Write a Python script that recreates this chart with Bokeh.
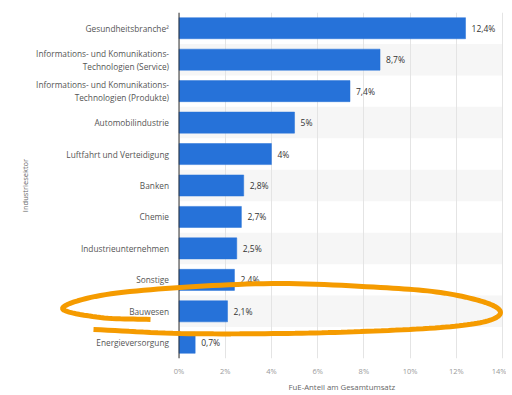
import numpy as np
from bokeh.plotting import figure
from bokeh.models import FactorRange, Range1d, FixedTicker, PolyAnnotation, Span, Title
from bokeh.core.properties import value
from bokeh.embed import file_html
from bokeh.resources import INLINE

# ---- data ----
categories = [
    "Gesundheitsbranche²",
    "Informations- und Komunikations-\nTechnologien (Service)",
    "Informations- und Komunikations-\nTechnologien (Produkte)",
    "Automobilindustrie",
    "Luftfahrt und Verteidigung",
    "Banken",
    "Chemie",
    "Industrieunternehmen",
    "Sonstige",
    "Bauwesen",
    "Energieversorgung",
]
values = [12.4, 8.7, 7.4, 5.0, 4.0, 2.8, 2.7, 2.5, 2.4, 2.1, 0.7]
value_labels = ["12,4%", "8,7%", "7,4%", "5%", "4%", "2,8%", "2,7%", "2,5%", "2,4%", "2,1%", "0,7%"]
x_ticks = [0, 2, 4, 6, 8, 10, 12, 14]
x_tick_labels = ["0%", "2%", "4%", "6%", "8%", "10%", "12%", "14%"]
x_title = "FuE-Anteil am Gesamtumsatz"
y_title = "Industriesektor"

# hand-drawn highlight loop (page pixels) around "Bauwesen"
loop_px = [(150, 319), (100, 317), (62, 308), (100, 295), (180, 287), (280, 283),
           (380, 287), (440, 292), (485, 302), (500, 312), (485, 321), (440, 327),
           (360, 331), (280, 333), (180, 333), (93, 329)]

FONT = "Open Sans"
W, H = 506, 393
LEFT, TOP, BOTTOM = 30, 12, 358          # frame edges in canvas pixels
ZERO_PX, FOURTEEN_PX = 178.5, 502.0      # where 0% and 14% sit
PX_PER_PCT = (FOURTEEN_PX - ZERO_PX) / 14.0
X_START = (LEFT - ZERO_PX) / PX_PER_PCT
X_END = (W - ZERO_PX) / PX_PER_PCT
BAND_END = 14.0

p = figure(width=W, height=H,
           y_range=FactorRange(factors=categories[::-1]),
           x_range=Range1d(X_START, X_END),
           y_axis_location=None,
           output_backend="svg", toolbar_location=None,
           min_border_left=LEFT, min_border_right=0,
           min_border_top=TOP, min_border_bottom=H - BOTTOM)
p.outline_line_color = None
p.background_fill_color = "white"
p.border_fill_color = "white"

# alternating row bands
band_cats = categories[1::2]
p.hbar(y=band_cats, left=0, right=BAND_END, height=1.0,
       fill_color="#f6f6f6", line_color=None, level="image")

# bars
p.hbar(y=categories, right=values, height=0.67,
       fill_color="#2672d9", line_color="#2672d9", line_width=0.5)

# value labels
p.text(x=values, y=categories, text=value_labels, x_offset=6,
       text_baseline="middle", text_align="left",
       text_font=value(FONT), text_font_size="8.5px", text_color="#333333")

# category labels (left of the zero line)
p.text(x=[0] * len(categories), y=categories, text=categories, x_offset=-10,
       text_baseline="middle", text_align="right", text_line_height=1.2,
       text_font=value(FONT), text_font_size="8.3px", text_color="#555555")

# zero line acting as the y axis line
p.add_layout(Span(location=0, dimension="height", line_color="#333333", line_width=1))

# grid
p.ygrid.visible = False
p.xgrid.ticker = FixedTicker(ticks=x_ticks)
p.xgrid.grid_line_color = "#e4e4e4"
p.xgrid.grid_line_width = 1

# x axis
xa = p.xaxis[0]
xa.ticker = FixedTicker(ticks=x_ticks)
xa.major_label_overrides = {t: l for t, l in zip(x_ticks, x_tick_labels)}
xa.axis_line_color = None
xa.major_tick_line_color = None
xa.minor_tick_line_color = None
xa.major_tick_out = 0
xa.major_label_standoff = 7
xa.major_label_text_font = FONT
xa.major_label_text_font_size = "7.5px"
xa.major_label_text_color = "#9a9a9a"

# x axis title, centred under the 0-14 % span
p.add_layout(Title(text=x_title, align="left", offset=288 - LEFT, standoff=2,
                   text_font=FONT, text_font_size="7.8px", text_font_style="normal",
                   text_color="#666666"), "below")

# y axis title
p.add_layout(Title(text=y_title, align="center", standoff=2,
                   text_font=FONT, text_font_size="7.5px", text_font_style="normal",
                   text_color="#666666"), "left")

# smooth the highlight loop (Catmull-Rom), then convert to data units
pts = np.array(loop_px, dtype=float)
ext = np.vstack([2 * pts[0] - pts[1], pts, 2 * pts[-1] - pts[-2]])
seg = []
for i in range(1, len(ext) - 2):
    p0, p1, p2, p3 = ext[i - 1], ext[i], ext[i + 1], ext[i + 2]
    for t in np.linspace(0, 1, 12, endpoint=False):
        t2, t3 = t * t, t * t * t
        seg.append(0.5 * ((2 * p1) + (-p0 + p2) * t + (2 * p0 - 5 * p1 + 4 * p2 - p3) * t2
                          + (-p0 + 3 * p1 - 3 * p2 + p3) * t3))
seg.append(pts[-1])
seg = np.array(seg)
path = np.vstack([seg, seg[::-1]])
row_h = (BOTTOM - TOP) / float(len(categories))
xs = (path[:, 0] - ZERO_PX) / PX_PER_PCT
ys = len(categories) - (path[:, 1] - TOP) / row_h
loop = PolyAnnotation(xs=list(xs), ys=list(ys),
                      fill_color=None, fill_alpha=0,
                      line_color="#f59b00", line_width=5, line_alpha=1.0)
p.add_layout(loop)

open("out.html", "w").write(file_html(p, INLINE))
